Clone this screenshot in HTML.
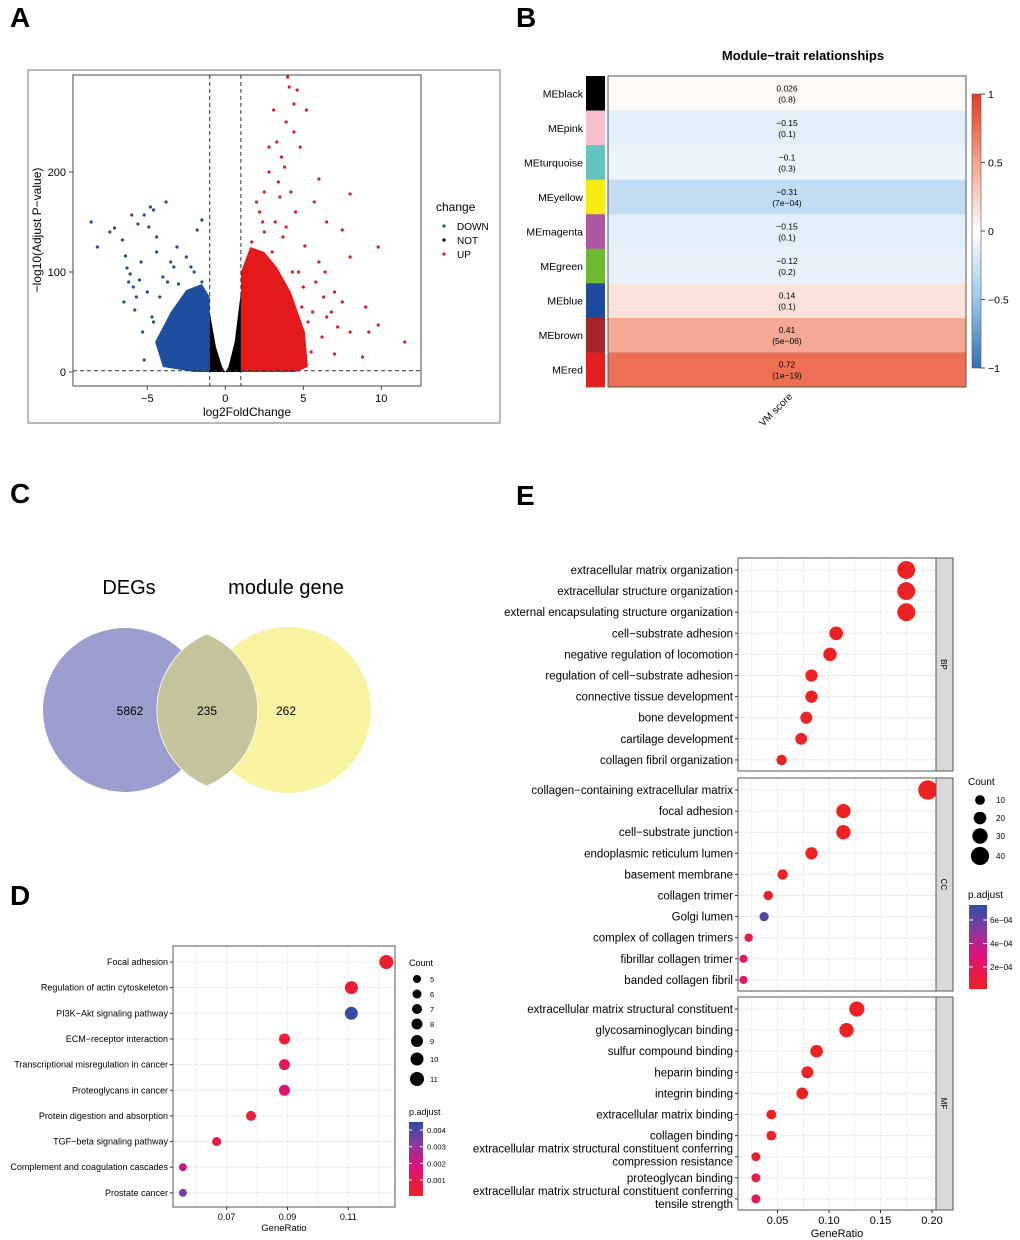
<!DOCTYPE html>
<html><head><meta charset="utf-8"><style>
html,body{margin:0;padding:0;background:#fff}
svg{display:block;font-family:"Liberation Sans",Arial,sans-serif}
</style></head><body>
<svg id="fig" width="1020" height="1240" viewBox="0 0 1020 1240" xmlns="http://www.w3.org/2000/svg">
<g id="gA">
<text x="10" y="27" font-size="28" font-weight="bold">A</text>
<rect x="28" y="70" width="472" height="353" fill="#fff" stroke="#888" stroke-width="1.2"/>
<rect x="73" y="75" width="348" height="311" fill="#fff" stroke="#444" stroke-width="1"/>
<text transform="translate(41,230) rotate(-90)" text-anchor="middle" font-size="12">−log10(Adjust P−value)</text>
<text x="247" y="416" text-anchor="middle" font-size="12">log2FoldChange</text>
<text x="436" y="211" font-size="12">change</text>
<circle cx="444" cy="226" r="1.6" fill="#1f4ea1"/><text x="457" y="230" font-size="10">DOWN</text>
<circle cx="444" cy="240" r="1.6" fill="#000"/><text x="457" y="244" font-size="10">NOT</text>
<circle cx="444" cy="254" r="1.6" fill="#e41a1c"/><text x="457" y="258" font-size="10">UP</text>
</g>
<g id="gB">
<text x="516" y="27" font-size="28" font-weight="bold">B</text>
<text x="803" y="60" text-anchor="middle" font-size="13" font-weight="bold">Module−trait relationships</text>
<text transform="translate(778,412) rotate(-45)" text-anchor="middle" font-size="10">VM score</text>
</g>
<g id="gC">
<text x="10" y="503" font-size="28" font-weight="bold">C</text>
<circle cx="125" cy="710" r="82" fill="#9b9ecf"/>
<circle cx="288" cy="710" r="83" fill="#f8f3a1"/>
<path d="M206.5,634 A82,82 0 0 1 206.5,786 A83,83 0 0 1 206.5,634 Z" fill="#c5c39b" stroke="#fff" stroke-width="0.8"/>
<text x="129" y="594" text-anchor="middle" font-size="20">DEGs</text>
<text x="286" y="594" text-anchor="middle" font-size="20">module gene</text>
<text x="130" y="715" text-anchor="middle" font-size="12">5862</text>
<text x="207" y="715" text-anchor="middle" font-size="12">235</text>
<text x="286" y="715" text-anchor="middle" font-size="12">262</text>
</g>
<g id="gD">
<text x="10" y="905" font-size="28" font-weight="bold">D</text>
</g>
<g id="gE">
<text x="516" y="505" font-size="28" font-weight="bold">E</text>
</g>
<defs>
<linearGradient id="gradB" x1="0" y1="1" x2="0" y2="0"><stop offset="0" stop-color="#2f6fb8"/><stop offset="0.25" stop-color="#9cc8ec"/><stop offset="0.5" stop-color="#ffffff"/><stop offset="0.75" stop-color="#f4a48c"/><stop offset="1" stop-color="#e23a22"/></linearGradient>
<linearGradient id="gradP" x1="0" y1="1" x2="0" y2="0"><stop offset="0" stop-color="#ee2222"/><stop offset="0.4" stop-color="#e0107a"/><stop offset="0.7" stop-color="#8a3a9e"/><stop offset="1" stop-color="#2d4ea2"/></linearGradient>
</defs>
</svg>
<script>
const NS="http://www.w3.org/2000/svg";
function mk(p,tag,at,txt){const e=document.createElementNS(NS,tag);for(const k in at)e.setAttribute(k,at[k]);if(txt!==undefined)e.textContent=txt;p.appendChild(e);return e;}
// ===== Panel A data =====
const downX=[-8.6,-8.2,-7.4,-7.1,-6.6,-6.4,-6.3,-6.0,-5.6,-5.2,-4.8,-4.6,-3.8,-1.5,-1.8,-3.1,-4.4,-5.5,-6.5,-5.8,-5.3,-5.2,-4.9,-4.4,-3.5,-2.5,-2.0,-1.5,-5.0,-4.0,-3.0,-6.1,-5.7,-4.7,-3.3,-2.8,-5.9,-5.4,-4.2,-3.7,-2.2,-6.2,-4.6,-3.9];
const downY=[150,125,140,144,132,116,104,157,148,157,165,162,170,152,142,125,120,92,70,62,40,12,145,135,110,115,100,90,80,95,88,98,75,55,105,60,85,110,75,90,105,90,50,40];
const upX=[4.1,4.6,4.4,5.2,3.1,3.9,4.4,3.3,2.8,4.8,3.8,6.0,5.7,8.0,6.5,7.5,9.8,8.0,11.5,9.2,9.8,9.0,8.8,7.0,8.0,2.0,2.5,3.5,3.2,3.9,5.1,6.0,6.4,7.0,6.5,7.5,6.2,5.5,4.3,4.7,5.0,2.8,3.4,4.2,2.5,1.7,4.0,3.6,4.5,2.2,5.8,6.8,7.2,3.0,5.6,6.3,5.3,4.9,3.7,2.4];
const upY=[285,282,268,262,262,250,240,230,225,225,205,193,170,178,150,142,125,115,30,40,47,65,15,18,40,170,180,175,150,145,126,110,100,80,55,70,35,20,100,100,85,200,190,180,140,130,295,215,160,160,90,60,45,120,60,75,50,65,135,150];
const downCloudX=[-1,-1,-1.5,-2.5,-3.5,-4.5,-4,-2];
const downCloudY=[0,75,88,82,60,30,5,0];
const notCloudX=[-1,-1,-0.6,-0.2,0,0.2,0.6,1,1];
const notCloudY=[0,60,25,5,0,5,30,80,0];
const upCloudX=[1,1,1.6,2.5,3.3,4.2,5.1,5.3,4.5];
const upCloudY=[0,100,125,120,105,80,40,5,0];
const aXTicks=[-5,0,5,10], aYTicks=[0,100,200];
const ax=v=>225.3+v*15.6, ay=v=>372-v*1.0;
(function(){
 const g=document.getElementById('gA');
 const pc=mk(g,'g',{'clip-path':'url(#clipA)'});
 const cp=mk(document.querySelector('defs'),'clipPath',{id:'clipA'});mk(cp,'rect',{x:73,y:75,width:348,height:311});
 function cloud(xs,ys,col,name){const pts=xs.map((x,i)=>ax(x)+','+ay(ys[i])).join(' ');const e=mk(pc,'polygon',{points:pts,fill:col});
  
  }
 cloud(downCloudX,downCloudY,'#1f4ea1','down-cloud');cloud(upCloudX,upCloudY,'#e41a1c','up-cloud');cloud(notCloudX,notCloudY,'#000','not-cloud');
 downX.forEach((x,i)=>{const c=mk(pc,'circle',{cx:ax(x),cy:ay(downY[i]),r:1.6,fill:'#1f4ea1'});
  
  });
 upX.forEach((x,i)=>{const c=mk(pc,'circle',{cx:ax(x),cy:ay(upY[i]),r:1.6,fill:'#e41a1c'});
  
  });
 [-1,1].forEach(v=>mk(pc,'line',{x1:ax(v),x2:ax(v),y1:75,y2:386,stroke:'#333','stroke-dasharray':'4,3'}));
 mk(pc,'line',{x1:73,x2:421,y1:ay(1.3),y2:ay(1.3),stroke:'#333','stroke-dasharray':'4,3'});
 aXTicks.forEach(t=>{mk(g,'line',{x1:ax(t),x2:ax(t),y1:386,y2:390,stroke:'#444'});const e=mk(g,'text',{x:ax(t),y:402,'text-anchor':'middle','font-size':11},t<0?'−'+(-t):t);
  
  });
 aYTicks.forEach(t=>{mk(g,'line',{x1:69,x2:73,y1:ay(t),y2:ay(t),stroke:'#444'});const e=mk(g,'text',{x:66,y:ay(t)+4,'text-anchor':'end','font-size':11},t);
  
  });
})();
// ===== Panel B data =====
const modNames=['MEblack','MEpink','MEturquoise','MEyellow','MEmagenta','MEgreen','MEblue','MEbrown','MEred'];
const modCorr=[0.026,-0.15,-0.1,-0.31,-0.15,-0.12,0.14,0.41,0.72];
const modP=['(0.8)','(0.1)','(0.3)','(7e−04)','(0.1)','(0.2)','(0.1)','(5e−06)','(1e−19)'];
const modColors=['#000000','#f5bfcb','#63c3bf','#f5ec13','#ad58a0','#6dba31','#1e4b9e','#a3262a','#e3201f'];
const barTicks=[1,0.5,0,-0.5,-1];
function corrColor(v){const lerp=(a,b,t)=>a.map((x,i)=>Math.round(x+(b[i]-x)*t));
 let c; if(v>=0){c=v<0.5?lerp([255,255,255],[242,150,125],v/0.5):lerp([242,150,125],[232,80,52],(v-0.5)/0.4);}else{const a=-v;c=a<0.5?lerp([255,255,255],[156,200,236],a/0.5):lerp([156,200,236],[47,111,184],(a-0.5)/0.5);}
 return 'rgb('+c.map(x=>Math.max(0,Math.min(255,x))).join(',')+')';}
(function(){
 const g=document.getElementById('gB');const top=76,h=(387-76)/9;
 modNames.forEach((n,i)=>{const y=top+i*h;
  const s=mk(g,'rect',{x:586,y:y,width:19,height:h+0.3,fill:modColors[i]});
  
  
  const c=mk(g,'rect',{x:608,y:y,width:358,height:h+0.3,fill:corrColor(modCorr[i])});
  
  
  const l=mk(g,'text',{x:583,y:y+h/2+4,'text-anchor':'end','font-size':10.5},n);
  
  
  const v=mk(g,'text',{x:787,y:y+h/2-2,'text-anchor':'middle','font-size':8.5},String(modCorr[i]).replace('-','−'));
  
  
  const p=mk(g,'text',{x:787,y:y+h/2+9,'text-anchor':'middle','font-size':8.5},modP[i]);
  
  });
 mk(g,'rect',{x:608,y:76,width:358,height:311,fill:'none',stroke:'#555'});
 const cb=mk(g,'rect',{x:972,y:94,width:9,height:274,fill:'url(#gradB)',stroke:'#555','stroke-width':0.6});
 
 
 barTicks.forEach(t=>{const y=94+(1-t)/2*274;mk(g,'line',{x1:981,x2:985,y1:y,y2:y,stroke:'#444'});
  const e=mk(g,'text',{x:988,y:y+4,'font-size':10.5},t<0?'−'+(-t):t);
  
  });
})();
// ===== Panel D data =====
const keggTerms=['Focal adhesion','Regulation of actin cytoskeleton','PI3K−Akt signaling pathway','ECM−receptor interaction','Transcriptional misregulation in cancer','Proteoglycans in cancer','Protein digestion and absorption','TGF−beta signaling pathway','Complement and coagulation cascades','Prostate cancer'];
const keggRatio=[0.1225,0.111,0.111,0.089,0.089,0.089,0.078,0.0667,0.0556,0.0556];
const keggCount=[11,10,10,8,8,8,7,6,5,5];
const keggP=[0.0003,0.0004,0.0043,0.0004,0.0012,0.0016,0.0005,0.0006,0.0022,0.0034];
const keggXTicks=[0.07,0.09,0.11];
const dCountTicks=[5,6,7,8,9,10,11];
const dPTicks=[0.004,0.003,0.002,0.001];
function pColor(t){t=Math.max(0,Math.min(1,t));const st=[[0,[238,34,34]],[0.4,[224,16,122]],[0.7,[138,58,158]],[1,[45,78,162]]];
 for(let i=1;i<st.length;i++)if(t<=st[i][0]){const a=st[i-1],b=st[i],u=(t-a[0])/(b[0]-a[0]);return 'rgb('+a[1].map((x,j)=>Math.round(x+(b[1][j]-x)*u)).join(',')+')';}return 'rgb(45,78,162)';}
(function(){
 const g=document.getElementById('gD');const L=173,R=395,T=946,B=1207;
 const dx=v=>226.7+(v-0.07)*3040, dy=i=>962+i*25.65, dr=c=>1.5+c*0.5;
 mk(g,'rect',{x:L,y:T,width:R-L,height:B-T,fill:'#fff'});
 [0.06,0.07,0.08,0.09,0.10,0.11,0.12].forEach(v=>mk(g,'line',{x1:dx(v),x2:dx(v),y1:T,y2:B,stroke:'#ebebeb','stroke-width':0.8}));
 keggTerms.forEach((t,i)=>{mk(g,'line',{x1:L,x2:R,y1:dy(i),y2:dy(i),stroke:'#ebebeb'});
  mk(g,'line',{x1:L-3,x2:L,y1:dy(i),y2:dy(i),stroke:'#333'});
  const e=mk(g,'text',{x:L-5,y:dy(i)+3,'text-anchor':'end','font-size':9},t);
  
  });
 keggTerms.forEach((t,i)=>{const c=mk(g,'circle',{cx:dx(keggRatio[i]),cy:dy(i),r:dr(keggCount[i]),fill:pColor(keggP[i]/0.0045)});
  
  });
 mk(g,'rect',{x:L,y:T,width:R-L,height:B-T,fill:'none',stroke:'#555'});
 keggXTicks.forEach(v=>{mk(g,'line',{x1:dx(v),x2:dx(v),y1:B,y2:B+3,stroke:'#333'});
  const e=mk(g,'text',{x:dx(v),y:B+13,'text-anchor':'middle','font-size':9},v.toFixed(2));
  
  });
 const xt=mk(g,'text',{x:284,y:1231,'text-anchor':'middle','font-size':9.5},'GeneRatio');
 
 
 const ct=mk(g,'text',{x:409,y:966,'font-size':9},'Count');
 const cy=[979,994,1009,1024,1041,1059,1079];
 dCountTicks.forEach((c,i)=>{mk(g,'circle',{cx:417,cy:cy[i],r:dr(c),fill:'#000'});
  const e=mk(g,'text',{x:430,y:cy[i]+3,'font-size':7.5},c);
  
  });
 const pt=mk(g,'text',{x:409,y:1115,'font-size':9},'p.adjust');
 mk(g,'rect',{x:409,y:1122,width:14,height:74,fill:'url(#gradP)'});
 dPTicks.forEach((v,i)=>{const y=1130+i*16.7;mk(g,'line',{x1:409,x2:412,y1:y,y2:y,stroke:'#fff'});mk(g,'line',{x1:420,x2:423,y1:y,y2:y,stroke:'#fff'});
  const e=mk(g,'text',{x:427,y:y+3,'font-size':7.5},v.toFixed(3));
  
  });
})();
// ===== Panel E data =====
const bpTerms=['extracellular matrix organization','extracellular structure organization','external encapsulating structure organization','cell−substrate adhesion','negative regulation of locomotion','regulation of cell−substrate adhesion','connective tissue development','bone development','cartilage development','collagen fibril organization'];
const bpRatio=[0.175,0.175,0.175,0.107,0.101,0.083,0.083,0.078,0.073,0.054];
const bpCount=[39,39,39,24,23,19,19,18,17,12];
const bpP=[1e-6,1e-6,1e-6,2e-6,2e-6,2e-6,2e-6,2e-6,2e-6,3e-6];
const ccTerms=['collagen−containing extracellular matrix','focal adhesion','cell−substrate junction','endoplasmic reticulum lumen','basement membrane','collagen trimer','Golgi lumen','complex of collagen trimers','fibrillar collagen trimer','banded collagen fibril'];
const ccRatio=[0.196,0.114,0.114,0.083,0.055,0.041,0.037,0.022,0.017,0.017];
const ccCount=[44,26,26,19,12,9,8,5,4,4];
const ccP=[1e-6,2e-6,2e-6,2e-6,3e-6,1e-5,7e-4,1.5e-4,2.3e-4,2.3e-4];
const mfTerms=['extracellular matrix structural constituent','glycosaminoglycan binding','sulfur compound binding','heparin binding','integrin binding','extracellular matrix binding','collagen binding','extracellular matrix structural constituent conferring|compression resistance','proteoglycan binding','extracellular matrix structural constituent conferring|tensile strength'];
const mfRatio=[0.127,0.117,0.088,0.079,0.074,0.044,0.044,0.029,0.029,0.029];
const mfCount=[29,26,20,18,17,10,10,7,7,7];
const mfP=[1e-6,1e-6,2e-6,2e-6,2e-6,3e-6,3e-6,5e-5,1.2e-4,1.7e-4];
const goXTicks=[0.05,0.10,0.15,0.20];
const eCountTicks=[10,20,30,40];
const ePTicks=[6e-4,4e-4,2e-4];
(function(){
 const g=document.getElementById('gE');const L=738,R=936;
 const ex=v=>726+v*1030, er=c=>3.5+c*0.14;
 const panels=[['BP',bpTerms,bpRatio,bpCount,bpP,558,771],['CC',ccTerms,ccRatio,ccCount,ccP,778,991],['MF',mfTerms,mfRatio,mfCount,mfP,997,1210]];
 panels.forEach(([nm,terms,rat,cnt,pv,T,B])=>{
  const pg=mk(g,'g',{});
  
  
  [0.025,0.05,0.075,0.10,0.125,0.15,0.175,0.20].forEach(v=>mk(pg,'line',{x1:ex(v),x2:ex(v),y1:T,y2:B,stroke:'#ebebeb','stroke-width':0.8}));
  const ey=i=>T+12+i*21.1;
  terms.forEach((t,i)=>{const y=ey(i);mk(pg,'line',{x1:L,x2:R,y1:y,y2:y,stroke:'#ebebeb'});mk(pg,'line',{x1:L-3,x2:L,y1:y,y2:y,stroke:'#333'});
   const parts=t.split('|');
   parts.forEach((p,k)=>{const e=mk(pg,'text',{x:L-5,y:y+4+(parts.length>1?(k===0?-8:5):0),'text-anchor':'end','font-size':11.5},p);
    
    });});
  terms.forEach((t,i)=>{const c=mk(pg,'circle',{cx:ex(rat[i]),cy:ey(i),r:er(cnt[i]),fill:pColor(pv[i]/7.5e-4*0.95)});
   
   });
  mk(pg,'rect',{x:L,y:T,width:R-L,height:B-T,fill:'none',stroke:'#555'});
  mk(pg,'rect',{x:R,y:T,width:17,height:B-T,fill:'#d9d9d9',stroke:'#555'});
  const s=mk(pg,'text',{transform:'translate('+(R+5)+','+((T+B)/2)+') rotate(90)','text-anchor':'middle','font-size':8},nm);
  
  });
 goXTicks.forEach(v=>{mk(g,'line',{x1:ex(v),x2:ex(v),y1:1210,y2:1213,stroke:'#333'});
  const e=mk(g,'text',{x:ex(v),y:1224,'text-anchor':'middle','font-size':11},v.toFixed(2));
  
  });
 const xt=mk(g,'text',{x:837,y:1237,'text-anchor':'middle','font-size':11},'GeneRatio');
 
 
 const ct=mk(g,'text',{x:968,y:785,'font-size':10},'Count');
 const cy=[800,818,836,856];
 eCountTicks.forEach((c,i)=>{mk(g,'circle',{cx:980,cy:cy[i],r:er(c),fill:'#000'});
  const e=mk(g,'text',{x:996,y:cy[i]+3,'font-size':8},c);
  
  });
 const pt=mk(g,'text',{x:968,y:898,'font-size':10},'p.adjust');
 mk(g,'rect',{x:969,y:905,width:18,height:84,fill:'url(#gradP)'});
 ePTicks.forEach((v,i)=>{const y=920+i*23.5;mk(g,'line',{x1:969,x2:973,y1:y,y2:y,stroke:'#fff'});mk(g,'line',{x1:983,x2:987,y1:y,y2:y,stroke:'#fff'});
  const e=mk(g,'text',{x:990,y:y+3,'font-size':8},(v*1e4).toFixed(0)+'e−04');
  
  });
})();
</script>
</body></html>
